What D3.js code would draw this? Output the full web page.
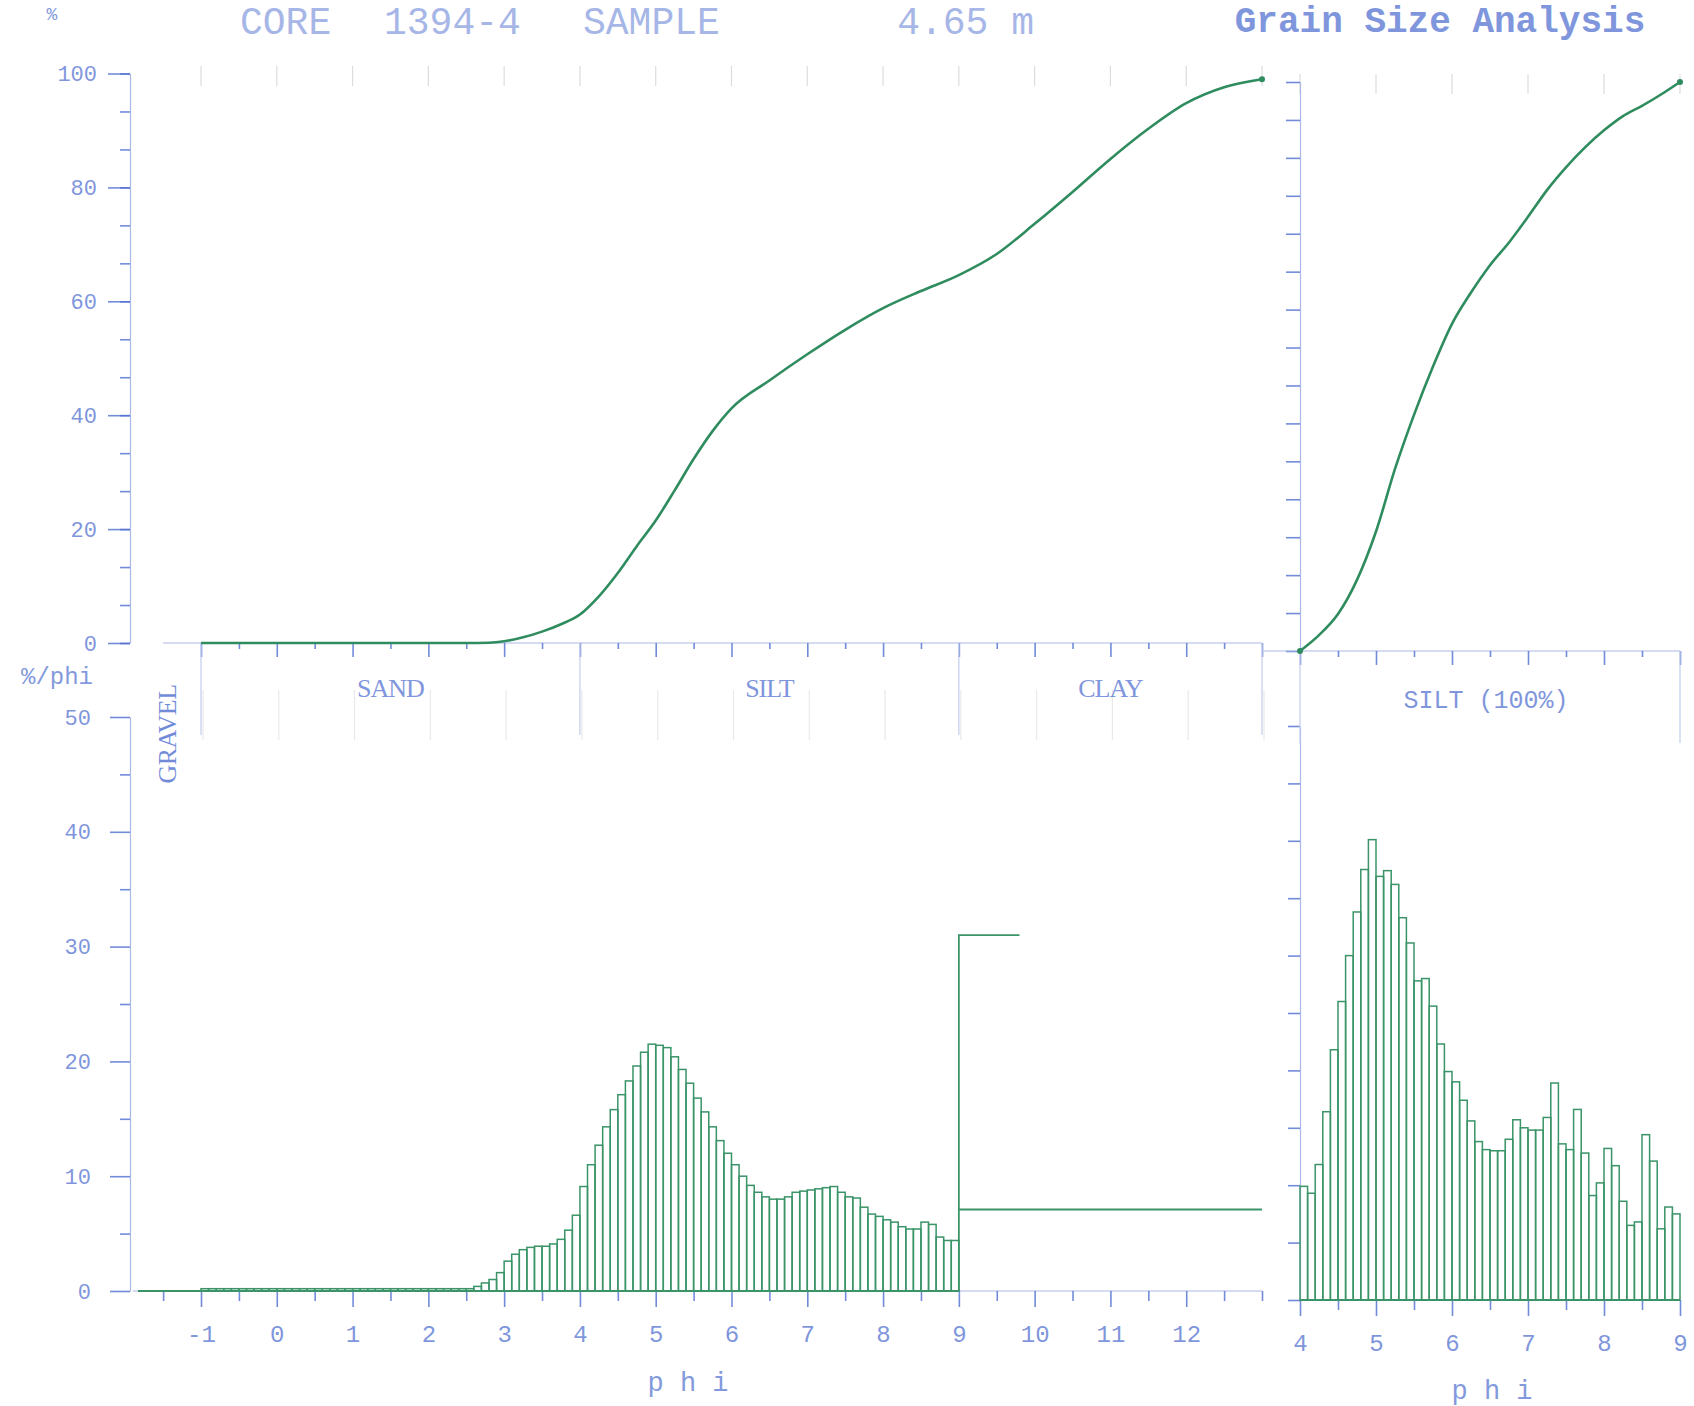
<!DOCTYPE html>
<html><head><meta charset="utf-8">
<script src="https://cdn.jsdelivr.net/npm/d3@7"></script>
<style>
body{margin:0;background:#fff}
</style>
</head><body>
<svg id="c" width="1694" height="1406"></svg>
<script>
// ---------- DATA ----------
// cumulative curve, whole sample (phi vs cumulative %)
const cumPhi = [-1,0,1,2,2.5,2.8,3,3.25,3.5,3.75,4,4.25,4.5,4.75,5,5.25,5.5,5.75,6,6.5,7,7.5,8,8.5,9,9.5,10,10.5,11,11.5,12,12.5,13];
const cumPct = [0,0,0,0,0,0.05,0.3,1.0,2.0,3.3,5.0,8.2,12.3,17,21.5,26.8,32.3,37.2,41.2,46.1,50.7,55,58.8,61.8,64.6,68.3,73.6,79.2,85,90.3,94.8,97.6,99];

// histogram, whole sample, 0.1-phi bins from -1 to 9 (%/phi)
const histStart = -1, histStep = 0.1;
const histVals = [
 0.2,0.2,0.2,0.2,0.2,0.2,0.2,0.2,0.2,0.2,
 0.2,0.2,0.2,0.2,0.2,0.2,0.2,0.2,0.2,0.2,
 0.2,0.2,0.2,0.2,0.2,0.2,0.2,0.2,0.2,0.2,
 0.2,0.2,0.2,0.2,0.2,
 0.2,0.4,0.7,1.0,1.6,
 2.6,3.2,3.6,3.8,3.9,3.9,4.1,4.5,5.3,6.6,
 9.1,11.0,12.7,14.3,15.8,17.1,18.3,19.6,20.8,21.5,
 21.4,21.2,20.4,19.3,18.1,16.8,15.6,14.3,13.1,12.0,
 11.0,10.0,9.2,8.6,8.2,8.0,8.0,8.2,8.6,8.7,
 8.8,8.9,9.0,9.1,8.6,8.2,8.1,7.3,6.7,6.5,
 6.2,6.0,5.6,5.4,5.4,6.0,5.8,4.7,4.4,4.4
];
// clay block (phi 9-13)
const clayPeak = 31, clayPeakEnd = 9.8, clayMean = 7.1, clayFrom = 9, clayTo = 13;

// silt-only cumulative curve (SILT 100%)
const siltPhi = [4,4.25,4.5,4.75,5,5.25,5.5,5.75,6,6.25,6.5,6.75,7,7.25,7.5,7.75,8,8.25,8.5,8.75,9];
const siltPct = [0,2.8,6.5,12.5,21,32,41.5,50,57.5,63,67.8,71.8,76.3,81,85,88.5,91.5,94,95.8,97.8,100];

// silt-only histogram, 0.1-phi bins from 4 to 9
const siltStart = 4, siltStep = 0.1;
const siltVals = [
 9.9,9.3,11.8,16.4,21.8,26.0,30.0,33.8,37.5,40.1,
 36.9,37.4,36.2,33.3,31.1,27.8,28.0,25.6,22.3,19.9,
 19.0,17.4,15.6,13.8,13.1,13.0,13.0,14.0,15.7,15.0,
 14.8,14.8,15.9,18.9,13.6,13.1,16.6,12.8,9.1,10.2,
 13.2,11.7,8.6,6.5,6.8,14.4,12.1,6.2,8.1,7.5
];

// tick labels / texts
const pctTicks = [0,20,40,60,80,100];
const densTicks = [0,10,20,30,40,50];
const phiLabelsL = [-1,0,1,2,3,4,5,6,7,8,9,10,11,12];
const phiLabelsR = [4,5,6,7,8,9];
const classes = [{name:"SAND",a:-1,b:4},{name:"SILT",a:4,b:9},{name:"CLAY",a:9,b:13}];
const titleWords = ["CORE","1394-4","SAMPLE","4.65 m"];

// ---------- DRAW ----------
const svg = d3.select("#c");
const BLUE = "#4f6fd0", AXIS = "#a9b8e6", GREEN = "#2f8c5e", GREEN2 = "#3a9468", FAINT = "#dcdcdc";
const MONO = "'Liberation Mono','DejaVu Sans Mono',monospace";
const SERIF = "'Liberation Serif','DejaVu Serif',serif";

const xL = d3.scaleLinear().domain([-1,13]).range([201,1262]);
const yT = d3.scaleLinear().domain([0,100]).range([643,73.5]);
const yB = d3.scaleLinear().domain([0,50]).range([1291,717]);
const xR = d3.scaleLinear().domain([4,9]).range([1300,1680]);
const yTR = d3.scaleLinear().domain([0,100]).range([651,82]);
const yBR = d3.scaleLinear().domain([0,50]).range([1300,726]);

// faint bleed-through ticks
const faint = svg.append("g").attr("stroke",FAINT).attr("stroke-width",1.2);
d3.range(-1,14).forEach(p=>{
  faint.append("line").attr("x1",xL(p)).attr("x2",xL(p)).attr("y1",66).attr("y2",86);
  faint.append("line").attr("x1",xL(p)+2).attr("x2",xL(p)+2).attr("y1",690).attr("y2",740).attr("opacity",0.6);
});
d3.range(4,10).forEach(p=>{
  faint.append("line").attr("x1",xR(p)).attr("x2",xR(p)).attr("y1",74).attr("y2",94);
});

function styleAxis(g, labelSize){
  g.select(".domain").attr("stroke",AXIS).attr("stroke-width",1.2);
  g.selectAll(".tick line").attr("stroke",BLUE).attr("stroke-width",1.6).attr("opacity",0.8);
  g.selectAll(".tick text").attr("fill",BLUE).attr("font-size",labelSize).attr("opacity",0.72)
    .style("font-family",MONO);
}

// ---- left Y axes ----
let g = svg.append("g").attr("transform","translate(130,0)")
  .call(d3.axisLeft(yT).tickValues(pctTicks).tickSize(22).tickPadding(11).tickSizeOuter(0));
styleAxis(g,22);
g = svg.append("g").attr("transform","translate(130,0)")
  .call(d3.axisLeft(yT).tickValues(d3.range(0,101,20/3)).tickSize(10).tickFormat("").tickSizeOuter(0));
styleAxis(g,0); g.select(".domain").remove();

g = svg.append("g").attr("transform","translate(130,0)")
  .call(d3.axisLeft(yB).tickValues(densTicks).tickSize(20).tickPadding(19).tickSizeOuter(0));
styleAxis(g,22);
g = svg.append("g").attr("transform","translate(130,0)")
  .call(d3.axisLeft(yB).tickValues([5,15,25,35,45]).tickSize(10).tickFormat("").tickSizeOuter(0));
styleAxis(g,0); g.select(".domain").remove();

// ---- right Y axes ----
g = svg.append("g").attr("transform",`translate(${xR(4)},0)`)
  .call(d3.axisLeft(yTR).tickValues(d3.range(0,101,20/3)).tickSize(14).tickFormat("").tickSizeOuter(0));
styleAxis(g,0);
g = svg.append("g").attr("transform",`translate(${xR(4)},0)`)
  .call(d3.axisLeft(yBR).tickValues(d3.range(0,51,5)).tickSize(12).tickFormat("").tickSizeOuter(0));
styleAxis(g,0);

// ---- X axes ----
function xAxisLine(scale, y, lo, hi){
  svg.append("line").attr("x1",scale(lo)).attr("x2",scale(hi)).attr("y1",y).attr("y2",y)
    .attr("stroke",AXIS).attr("stroke-width",1.2);
}
xAxisLine(xL, yT(0), -1.5, 13);
g = svg.append("g").attr("transform",`translate(0,${yT(0)})`)
  .call(d3.axisBottom(xL).tickValues(d3.range(-1,14)).tickSize(14).tickFormat(""));
styleAxis(g,0); g.select(".domain").remove();
g = svg.append("g").attr("transform",`translate(0,${yT(0)})`)
  .call(d3.axisBottom(xL).tickValues(d3.range(-0.5,13,1)).tickSize(6).tickFormat(""));
styleAxis(g,0); g.select(".domain").remove();

xAxisLine(xR, yTR(0), 3.5, 9);
g = svg.append("g").attr("transform",`translate(0,${yTR(0)})`)
  .call(d3.axisBottom(xR).tickValues(d3.range(4,10)).tickSize(14).tickFormat(""));
styleAxis(g,0); g.select(".domain").remove();
g = svg.append("g").attr("transform",`translate(0,${yTR(0)})`)
  .call(d3.axisBottom(xR).tickValues(d3.range(4.5,9,1)).tickSize(6).tickFormat(""));
styleAxis(g,0); g.select(".domain").remove();

xAxisLine(xL, yB(0), -1.9, 13);
g = svg.append("g").attr("transform",`translate(0,${yB(0)})`)
  .call(d3.axisBottom(xL).tickValues(phiLabelsL).tickSize(16).tickPadding(18).tickFormat(d=>d));
styleAxis(g,24); g.select(".domain").remove();
g = svg.append("g").attr("transform",`translate(0,${yB(0)})`)
  .call(d3.axisBottom(xL).tickValues(d3.range(-1.5,13.1,1).concat([13])).tickSize(10).tickFormat(""));
styleAxis(g,0); g.select(".domain").remove();

xAxisLine(xR, yBR(0), 4, 9);
g = svg.append("g").attr("transform",`translate(0,${yBR(0)})`)
  .call(d3.axisBottom(xR).tickValues(phiLabelsR).tickSize(16).tickPadding(18).tickFormat(d=>d));
styleAxis(g,24); g.select(".domain").remove();
g = svg.append("g").attr("transform",`translate(0,${yBR(0)})`)
  .call(d3.axisBottom(xR).tickValues(d3.range(4.5,9,1)).tickSize(10).tickFormat(""));
styleAxis(g,0); g.select(".domain").remove();

// class boundary markers
const bnd = svg.append("g").attr("stroke","#c3cdee").attr("stroke-width",1.2);
[-1,4,9,13].forEach(p=>bnd.append("line").attr("x1",xL(p)).attr("x2",xL(p)).attr("y1",yT(0)).attr("y2",yT(0)+92));
[4,9].forEach(p=>bnd.append("line").attr("x1",xR(p)).attr("x2",xR(p)).attr("y1",yTR(0)).attr("y2",yTR(0)+92));

// ---- texts ----
function txt(x,y,s,size,opts={}){
  const t = svg.append("text").attr("x",x).attr("y",y).text(s).attr("font-size",size)
    .attr("fill",opts.fill||BLUE).attr("text-anchor",opts.anchor||"middle")
    .attr("opacity",opts.op==null?0.8:opts.op)
    .style("font-family",opts.family||MONO);
  if(opts.weight) t.attr("font-weight",opts.weight);
  if(opts.ls!=null) t.attr("letter-spacing",opts.ls);
  if(opts.rot) t.attr("transform",`rotate(${opts.rot},${x},${y})`);
  return t;
}
txt(52,20,"%",18,{op:0.7});
const titleX = [240,384,583,1034];
titleWords.forEach((w,i)=>txt(titleX[i],34,w,38,{anchor:i===3?"end":"start",op:0.5}));
txt(1440,32,"Grain Size Analysis",36,{weight:"bold",op:0.72});
txt(57,684,"%/phi",24,{op:0.7});
classes.forEach(c=>txt((xL(c.a)+xL(c.b))/2,697,c.name,26,{family:SERIF,op:0.72,ls:-1}));
txt(1486,708,"SILT (100%)",25,{op:0.72});
txt(176,734,"GRAVEL",26,{family:SERIF,rot:-90,op:0.8,ls:-0.5});
txt(688,1391,"p h i",27,{op:0.7});
txt(1492,1399,"p h i",27,{op:0.7});

// ---- cumulative curves ----
const lineL = d3.line().x((d,i)=>xL(cumPhi[i])).y(d=>yT(d)).curve(d3.curveMonotoneX);
svg.append("path").attr("d",lineL(cumPct)).attr("fill","none").attr("stroke",GREEN).attr("stroke-width",2.6);
svg.append("circle").attr("cx",xL(cumPhi[cumPhi.length-1])).attr("cy",yT(cumPct[cumPct.length-1])).attr("r",3).attr("fill",GREEN);

const lineR = d3.line().x((d,i)=>xR(siltPhi[i])).y(d=>yTR(d)).curve(d3.curveMonotoneX);
svg.append("path").attr("d",lineR(siltPct)).attr("fill","none").attr("stroke",GREEN).attr("stroke-width",2.6);
svg.append("circle").attr("cx",xR(9)).attr("cy",yTR(100)).attr("r",3).attr("fill",GREEN);
svg.append("circle").attr("cx",xR(4)).attr("cy",yTR(0)).attr("r",3).attr("fill",GREEN);

// ---- histograms ----
function hist(vals, start, step, xs, ys){
  const gg = svg.append("g").attr("fill","none").attr("stroke",GREEN2).attr("stroke-width",1.5);
  vals.forEach((v,i)=>{
    const a = start + i*step, b = a + step;
    gg.append("rect").attr("x",xs(a)).attr("y",ys(v)).attr("width",xs(b)-xs(a)).attr("height",ys(0)-ys(v));
  });
  gg.append("line").attr("x1",xs(start)).attr("x2",xs(start+vals.length*step)).attr("y1",ys(0)).attr("y2",ys(0)).attr("stroke-width",2);
}
hist(histVals, histStart, histStep, xL, yB);
hist(siltVals, siltStart, siltStep, xR, yBR);
svg.append("line").attr("x1",138).attr("x2",xL(-1)).attr("y1",yB(0)).attr("y2",yB(0)).attr("stroke",GREEN2).attr("stroke-width",2);

// clay block
const clay = svg.append("g").attr("fill","none").attr("stroke",GREEN2).attr("stroke-width",1.8);
clay.append("path").attr("d",`M${xL(clayFrom)},${yB(0)}V${yB(clayPeak)}H${xL(clayPeakEnd)}`);
clay.append("path").attr("d",`M${xL(clayFrom)},${yB(clayMean)}H${xL(clayTo)}`);
</script>
</body></html>
